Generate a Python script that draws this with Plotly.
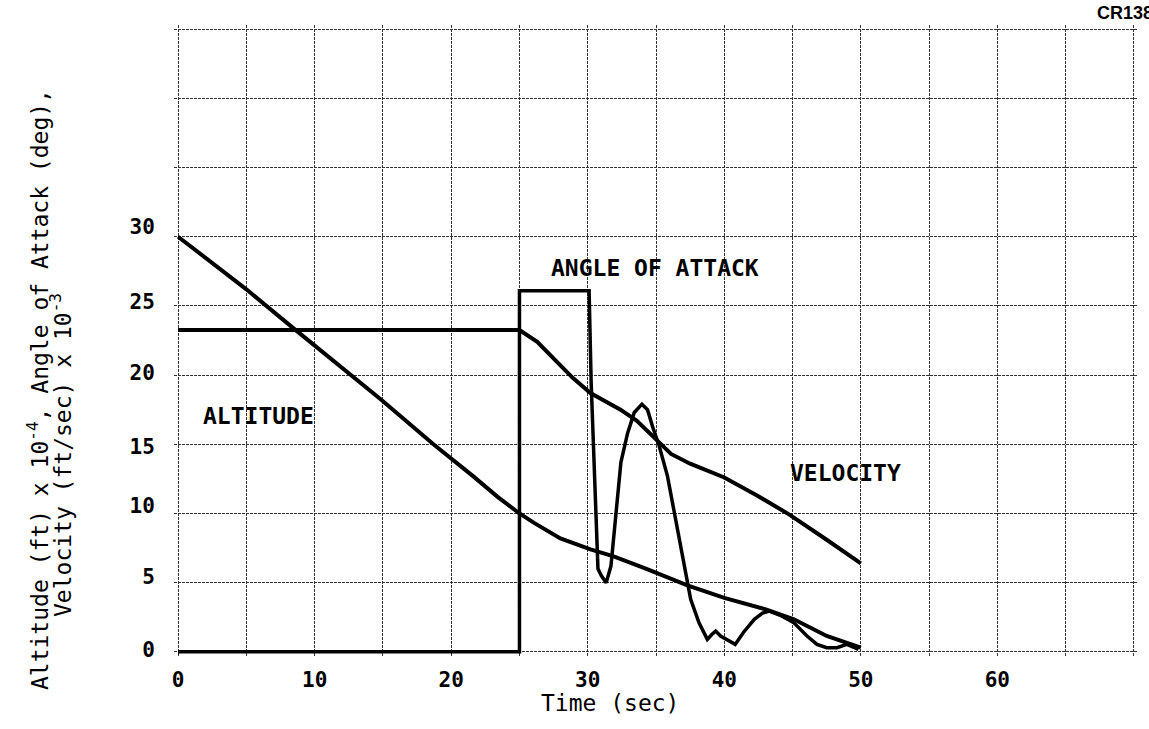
import plotly.graph_objects as go

# ---- data ----
vel_t = [0, 25, 26.3, 27.5, 28.9, 30.2, 31.3, 32.4, 33.6, 34.9, 36.1, 37.5, 40.0, 42.4, 44.8, 47.5, 50]
vel_v = [23.25, 23.25, 22.4, 21.2, 19.8, 18.7, 18.1, 17.5, 16.7, 15.4, 14.3, 13.6, 12.6, 11.3, 9.9, 8.1, 6.4]

alt_t = [0, 5, 8.3, 11.9, 14.9, 18.7, 20, 21.6, 23.4, 25, 26.1, 28, 30.2, 31.9, 34.3, 37.3, 40, 43.1, 45.1, 47.5, 50]
alt_v = [30, 26.2, 23.5, 20.6, 18.2, 15, 14, 12.7, 11.2, 10, 9.3, 8.2, 7.4, 6.9, 6.0, 4.8, 3.9, 3.05, 2.35, 1.15, 0.3]

aoa_t = [0, 25, 25, 30.1, 30.25, 30.58, 30.75, 31.0, 31.35, 31.7, 32.07, 32.43, 32.92, 33.41, 33.97,
         34.38, 34.74, 35.23, 35.84, 36.45, 37.06, 37.54, 38.15, 38.76, 39.1, 39.37, 39.73, 40.2,
         40.8, 41.4, 42.2, 42.8, 43.3, 44.2, 45.1, 46.06, 46.79, 47.5, 48.25, 48.98, 49.83]
aoa_v = [0, 0, 26.1, 26.1, 19.5, 11.2, 6.0, 5.5, 5.0, 6.2, 10.1, 13.7, 15.8, 17.3, 17.9,
         17.5, 16.3, 14.9, 12.7, 9.6, 6.2, 3.8, 2.1, 0.9, 1.27, 1.5, 1.14, 0.9,
         0.54, 1.4, 2.35, 2.8, 2.95, 2.6, 2.1, 1.14, 0.54, 0.3, 0.3, 0.54, 0.18]

x_tickvals = [0, 10, 20, 30, 40, 50, 60]
x_ticktext = ["0", "10", "20", "30", "40", "50", "60"]
x_minor_grid = [5, 15, 25, 35, 45, 55, 65, 70]
y_grid = list(range(0, 50, 5))
y_label_pos = [0.15, 5.4, 10.6, 14.8, 20.2, 25.3, 30.7]
y_label_text = ["0", "5", "10", "15", "20", "25", "30"]

MONO = "DejaVu Sans Mono"
GRID_COLOR = "#333333"
GRID_DASH = "3px,1px"

fig = go.Figure()
fig.add_trace(go.Scatter(x=alt_t, y=alt_v, mode="lines", line=dict(color="black", width=4), showlegend=False))
fig.add_trace(go.Scatter(x=aoa_t, y=aoa_v, mode="lines", line=dict(color="black", width=3.5), showlegend=False))
fig.add_trace(go.Scatter(x=vel_t, y=vel_v, mode="lines", line=dict(color="black", width=4),
                         showlegend=False, yaxis="y2"))

XR = [-0.3, 70.3]
YR = [-0.3, 45.3]
grid_style = dict(showgrid=True, gridcolor=GRID_COLOR, gridwidth=1.3, griddash=GRID_DASH, zeroline=False,
                  showline=False)

fig.update_layout(
    width=1149, height=729,
    margin=dict(l=173.9, r=10.9, t=25.05, b=72.85, autoexpand=False),
    paper_bgcolor="white", plot_bgcolor="white",
    xaxis=dict(range=XR, tickvals=x_tickvals, ticktext=x_ticktext, ticks="outside", ticklen=5,
               tickcolor="rgba(0,0,0,0)", tickfont=dict(family=MONO, size=21, color="black", weight="bold"),
               minor=dict(tickvals=x_minor_grid, showgrid=True, gridcolor=GRID_COLOR, gridwidth=1.3,
                          griddash=GRID_DASH, ticks=""),
               **grid_style),
    yaxis=dict(range=YR, tickvals=y_grid, showticklabels=False, **grid_style),
    yaxis2=dict(range=YR, overlaying="y", side="left", showgrid=False, zeroline=False,
                tickvals=y_label_pos, ticktext=y_label_text, ticks="outside", ticklen=14,
                tickcolor="rgba(0,0,0,0)", tickfont=dict(family=MONO, size=21, color="black", weight="bold")),
)

lab = dict(family=MONO, size=23, color="black", weight="bold")
fig.add_annotation(x=5.86, y=17.05, text="ALTITUDE", showarrow=False, font=lab)
fig.add_annotation(x=34.9, y=27.75, text="ANGLE OF ATTACK", showarrow=False, font=lab)
fig.add_annotation(x=48.9, y=12.9, text="VELOCITY", showarrow=False, font=lab)

tfont = dict(family=MONO, size=23, color="black")
c = dict(showarrow=False, xref="paper", yref="paper", xanchor="center", yanchor="middle")
fig.add_annotation(x=(610 - 173.9) / 964.2, y=(656.15 - 703) / 631.1,
                   text="Time (sec)", font=tfont, **c)
fig.add_annotation(x=(38 - 173.9) / 964.2, y=(656.15 - 390) / 631.1,
                   text="Altitude (ft) x 10<sup>-4</sup>, Angle of Attack (deg),", textangle=-90,
                   font=tfont, **c)
fig.add_annotation(x=(61 - 173.9) / 964.2, y=(656.15 - 455) / 631.1,
                   text="Velocity (ft/sec) x 10<sup>-3</sup>", textangle=-90,
                   font=tfont, **c)
fig.add_annotation(xref="paper", yref="paper", x=(1095 - 173.9) / 964.2, y=(656.15 - 13) / 631.1,
                   xanchor="left", yanchor="middle", text="<b>CR138</b>", showarrow=False,
                   font=dict(family="Liberation Sans", size=18, color="black"))

fig.write_html("out.html")
